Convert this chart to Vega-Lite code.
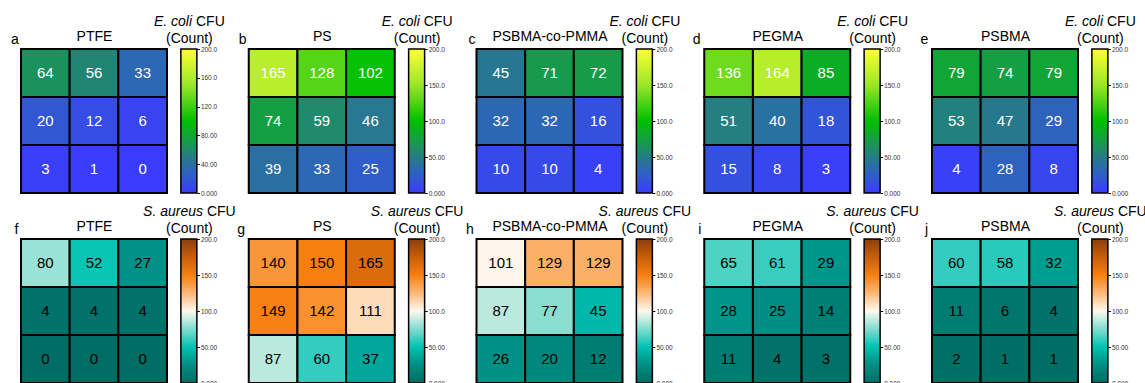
{
  "$schema": "https://vega.github.io/schema/vega-lite/v6.json",
  "padding": {"left": 10, "top": 14, "right": 0, "bottom": 0},
  "config": {
    "font": "Liberation Sans",
    "view": {"stroke": null},
    "axis": {
      "labels": false, "ticks": false, "domain": false, "grid": false,
      "titleFontSize": 14, "titleFontWeight": "normal", "titleColor": "black",
      "titleAngle": 0, "titleBaseline": "alphabetic", "titlePadding": 0
    }
  },
  "datasets": {
    "bar": [{"lo": 0, "hi": 200}],
    "cfu": [
      {"strain": "E. coli", "surface": "PTFE", "row": 1, "col": 1, "count": 64},
      {"strain": "E. coli", "surface": "PTFE", "row": 1, "col": 2, "count": 56},
      {"strain": "E. coli", "surface": "PTFE", "row": 1, "col": 3, "count": 33},
      {"strain": "E. coli", "surface": "PTFE", "row": 2, "col": 1, "count": 20},
      {"strain": "E. coli", "surface": "PTFE", "row": 2, "col": 2, "count": 12},
      {"strain": "E. coli", "surface": "PTFE", "row": 2, "col": 3, "count": 6},
      {"strain": "E. coli", "surface": "PTFE", "row": 3, "col": 1, "count": 3},
      {"strain": "E. coli", "surface": "PTFE", "row": 3, "col": 2, "count": 1},
      {"strain": "E. coli", "surface": "PTFE", "row": 3, "col": 3, "count": 0},
      {"strain": "E. coli", "surface": "PS", "row": 1, "col": 1, "count": 165},
      {"strain": "E. coli", "surface": "PS", "row": 1, "col": 2, "count": 128},
      {"strain": "E. coli", "surface": "PS", "row": 1, "col": 3, "count": 102},
      {"strain": "E. coli", "surface": "PS", "row": 2, "col": 1, "count": 74},
      {"strain": "E. coli", "surface": "PS", "row": 2, "col": 2, "count": 59},
      {"strain": "E. coli", "surface": "PS", "row": 2, "col": 3, "count": 46},
      {"strain": "E. coli", "surface": "PS", "row": 3, "col": 1, "count": 39},
      {"strain": "E. coli", "surface": "PS", "row": 3, "col": 2, "count": 33},
      {"strain": "E. coli", "surface": "PS", "row": 3, "col": 3, "count": 25},
      {"strain": "E. coli", "surface": "PSBMA-co-PMMA", "row": 1, "col": 1, "count": 45},
      {"strain": "E. coli", "surface": "PSBMA-co-PMMA", "row": 1, "col": 2, "count": 71},
      {"strain": "E. coli", "surface": "PSBMA-co-PMMA", "row": 1, "col": 3, "count": 72},
      {"strain": "E. coli", "surface": "PSBMA-co-PMMA", "row": 2, "col": 1, "count": 32},
      {"strain": "E. coli", "surface": "PSBMA-co-PMMA", "row": 2, "col": 2, "count": 32},
      {"strain": "E. coli", "surface": "PSBMA-co-PMMA", "row": 2, "col": 3, "count": 16},
      {"strain": "E. coli", "surface": "PSBMA-co-PMMA", "row": 3, "col": 1, "count": 10},
      {"strain": "E. coli", "surface": "PSBMA-co-PMMA", "row": 3, "col": 2, "count": 10},
      {"strain": "E. coli", "surface": "PSBMA-co-PMMA", "row": 3, "col": 3, "count": 4},
      {"strain": "E. coli", "surface": "PEGMA", "row": 1, "col": 1, "count": 136},
      {"strain": "E. coli", "surface": "PEGMA", "row": 1, "col": 2, "count": 164},
      {"strain": "E. coli", "surface": "PEGMA", "row": 1, "col": 3, "count": 85},
      {"strain": "E. coli", "surface": "PEGMA", "row": 2, "col": 1, "count": 51},
      {"strain": "E. coli", "surface": "PEGMA", "row": 2, "col": 2, "count": 40},
      {"strain": "E. coli", "surface": "PEGMA", "row": 2, "col": 3, "count": 18},
      {"strain": "E. coli", "surface": "PEGMA", "row": 3, "col": 1, "count": 15},
      {"strain": "E. coli", "surface": "PEGMA", "row": 3, "col": 2, "count": 8},
      {"strain": "E. coli", "surface": "PEGMA", "row": 3, "col": 3, "count": 3},
      {"strain": "E. coli", "surface": "PSBMA", "row": 1, "col": 1, "count": 79},
      {"strain": "E. coli", "surface": "PSBMA", "row": 1, "col": 2, "count": 74},
      {"strain": "E. coli", "surface": "PSBMA", "row": 1, "col": 3, "count": 79},
      {"strain": "E. coli", "surface": "PSBMA", "row": 2, "col": 1, "count": 53},
      {"strain": "E. coli", "surface": "PSBMA", "row": 2, "col": 2, "count": 47},
      {"strain": "E. coli", "surface": "PSBMA", "row": 2, "col": 3, "count": 29},
      {"strain": "E. coli", "surface": "PSBMA", "row": 3, "col": 1, "count": 4},
      {"strain": "E. coli", "surface": "PSBMA", "row": 3, "col": 2, "count": 28},
      {"strain": "E. coli", "surface": "PSBMA", "row": 3, "col": 3, "count": 8},
      {"strain": "S. aureus", "surface": "PTFE", "row": 1, "col": 1, "count": 80},
      {"strain": "S. aureus", "surface": "PTFE", "row": 1, "col": 2, "count": 52},
      {"strain": "S. aureus", "surface": "PTFE", "row": 1, "col": 3, "count": 27},
      {"strain": "S. aureus", "surface": "PTFE", "row": 2, "col": 1, "count": 4},
      {"strain": "S. aureus", "surface": "PTFE", "row": 2, "col": 2, "count": 4},
      {"strain": "S. aureus", "surface": "PTFE", "row": 2, "col": 3, "count": 4},
      {"strain": "S. aureus", "surface": "PTFE", "row": 3, "col": 1, "count": 0},
      {"strain": "S. aureus", "surface": "PTFE", "row": 3, "col": 2, "count": 0},
      {"strain": "S. aureus", "surface": "PTFE", "row": 3, "col": 3, "count": 0},
      {"strain": "S. aureus", "surface": "PS", "row": 1, "col": 1, "count": 140},
      {"strain": "S. aureus", "surface": "PS", "row": 1, "col": 2, "count": 150},
      {"strain": "S. aureus", "surface": "PS", "row": 1, "col": 3, "count": 165},
      {"strain": "S. aureus", "surface": "PS", "row": 2, "col": 1, "count": 149},
      {"strain": "S. aureus", "surface": "PS", "row": 2, "col": 2, "count": 142},
      {"strain": "S. aureus", "surface": "PS", "row": 2, "col": 3, "count": 111},
      {"strain": "S. aureus", "surface": "PS", "row": 3, "col": 1, "count": 87},
      {"strain": "S. aureus", "surface": "PS", "row": 3, "col": 2, "count": 60},
      {"strain": "S. aureus", "surface": "PS", "row": 3, "col": 3, "count": 37},
      {"strain": "S. aureus", "surface": "PSBMA-co-PMMA", "row": 1, "col": 1, "count": 101},
      {"strain": "S. aureus", "surface": "PSBMA-co-PMMA", "row": 1, "col": 2, "count": 129},
      {"strain": "S. aureus", "surface": "PSBMA-co-PMMA", "row": 1, "col": 3, "count": 129},
      {"strain": "S. aureus", "surface": "PSBMA-co-PMMA", "row": 2, "col": 1, "count": 87},
      {"strain": "S. aureus", "surface": "PSBMA-co-PMMA", "row": 2, "col": 2, "count": 77},
      {"strain": "S. aureus", "surface": "PSBMA-co-PMMA", "row": 2, "col": 3, "count": 45},
      {"strain": "S. aureus", "surface": "PSBMA-co-PMMA", "row": 3, "col": 1, "count": 26},
      {"strain": "S. aureus", "surface": "PSBMA-co-PMMA", "row": 3, "col": 2, "count": 20},
      {"strain": "S. aureus", "surface": "PSBMA-co-PMMA", "row": 3, "col": 3, "count": 12},
      {"strain": "S. aureus", "surface": "PEGMA", "row": 1, "col": 1, "count": 65},
      {"strain": "S. aureus", "surface": "PEGMA", "row": 1, "col": 2, "count": 61},
      {"strain": "S. aureus", "surface": "PEGMA", "row": 1, "col": 3, "count": 29},
      {"strain": "S. aureus", "surface": "PEGMA", "row": 2, "col": 1, "count": 28},
      {"strain": "S. aureus", "surface": "PEGMA", "row": 2, "col": 2, "count": 25},
      {"strain": "S. aureus", "surface": "PEGMA", "row": 2, "col": 3, "count": 14},
      {"strain": "S. aureus", "surface": "PEGMA", "row": 3, "col": 1, "count": 11},
      {"strain": "S. aureus", "surface": "PEGMA", "row": 3, "col": 2, "count": 4},
      {"strain": "S. aureus", "surface": "PEGMA", "row": 3, "col": 3, "count": 3},
      {"strain": "S. aureus", "surface": "PSBMA", "row": 1, "col": 1, "count": 60},
      {"strain": "S. aureus", "surface": "PSBMA", "row": 1, "col": 2, "count": 58},
      {"strain": "S. aureus", "surface": "PSBMA", "row": 1, "col": 3, "count": 32},
      {"strain": "S. aureus", "surface": "PSBMA", "row": 2, "col": 1, "count": 11},
      {"strain": "S. aureus", "surface": "PSBMA", "row": 2, "col": 2, "count": 6},
      {"strain": "S. aureus", "surface": "PSBMA", "row": 2, "col": 3, "count": 4},
      {"strain": "S. aureus", "surface": "PSBMA", "row": 3, "col": 1, "count": 2},
      {"strain": "S. aureus", "surface": "PSBMA", "row": 3, "col": 2, "count": 1},
      {"strain": "S. aureus", "surface": "PSBMA", "row": 3, "col": 3, "count": 1}
    ]
  },
  "columns": 10,
  "align": "each",
  "bounds": "flush",
  "spacing": {"row": 46, "column": 13.875},
  "resolve": {"scale": {"color": "independent"}},
  "concat": [
    {
      "width": 146, "height": 144, "data": {"name": "cfu"},
      "transform": [{"filter": "datum.strain === 'E. coli' && datum.surface === 'PTFE'"}],
      "encoding": {
        "x": {"field": "col", "type": "ordinal", "axis": {"orient": "top", "title": "PTFE", "titleX": 73, "titleY": -9}},
        "y": {"field": "row", "type": "ordinal", "axis": {"orient": "left", "title": "a", "titleX": -6.5, "titleY": -5.5, "titleAlign": "center"}}
      },
      "layer": [
        {"mark": {"type": "rect", "stroke": "black", "strokeWidth": 2},
         "encoding": {"color": {"field": "count", "type": "quantitative", "legend": null,
           "scale": {"domain": [0, 25, 50, 75, 100, 150, 200], "range": ["#3b3bff", "#2f5ec8", "#257d85", "#14a040", "#00c000", "#9ae62a", "#ffff33"], "interpolate": "rgb"}}}},
        {"mark": {"type": "text", "fontSize": 15, "fill": "white"}, "encoding": {"text": {"field": "count", "type": "quantitative"}}}
      ]
    },
    {
      "width": 54, "height": 144, "data": {"name": "bar"},
      "resolve": {"axis": {"y": "independent"}},
      "layer": [
        {"mark": {"type": "rect", "fill": {"gradient": "linear", "x1": 0, "y1": 1, "x2": 0, "y2": 0, "stops": [
            {"offset": 0, "color": "#3b3bff"}, {"offset": 0.125, "color": "#2f5ec8"}, {"offset": 0.25, "color": "#257d85"}, {"offset": 0.375, "color": "#14a040"}, {"offset": 0.5, "color": "#00c000"}, {"offset": 0.75, "color": "#9ae62a"}, {"offset": 1, "color": "#ffff33"}]}},
         "encoding": {
           "x": {"datum": 0, "type": "quantitative", "scale": {"domain": [0, 1], "range": [0, 16], "nice": false, "zero": false}, "axis": {"orient": "top", "title": "(Count)", "titleX": 8, "titleY": -7, "titleAlign": "center"}},
           "x2": {"datum": 1},
           "y": {"field": "lo", "type": "quantitative", "scale": {"domain": [0, 200], "nice": false}, "axis": {"orient": "right", "offset": -38, "values": [0, 40, 80, 120, 160, 200], "labelExpr": "datum.value === 0 ? '0.000' : format(datum.value, '.4r')", "labels": true, "ticks": true, "tickSize": 2.5, "tickColor": "black", "labelFontSize": 6.5, "labelPadding": 1, "labelColor": "#333333", "title": "CFU", "titleX": -1.4, "titleY": -24, "titleAlign": "left"}},
           "y2": {"field": "hi"}
         }},
        {"mark": {"type": "rect", "filled": false, "color": "black", "strokeWidth": 1.5},
         "encoding": {
           "x": {"datum": 0, "type": "quantitative"}, "x2": {"datum": 1},
           "y": {"field": "lo", "type": "quantitative", "axis": {"orient": "left", "title": "E. coli", "titleFontStyle": "italic", "titleX": 10.7, "titleY": -24, "titleAlign": "right"}},
           "y2": {"field": "hi"}
         }}
      ]
    },
    {
      "width": 146, "height": 144, "data": {"name": "cfu"},
      "transform": [{"filter": "datum.strain === 'E. coli' && datum.surface === 'PS'"}],
      "encoding": {
        "x": {"field": "col", "type": "ordinal", "axis": {"orient": "top", "title": "PS", "titleX": 73, "titleY": -9}},
        "y": {"field": "row", "type": "ordinal", "axis": {"orient": "left", "title": "b", "titleX": -6.5, "titleY": -5.5, "titleAlign": "center"}}
      },
      "layer": [
        {"mark": {"type": "rect", "stroke": "black", "strokeWidth": 2},
         "encoding": {"color": {"field": "count", "type": "quantitative", "legend": null,
           "scale": {"domain": [0, 25, 50, 75, 100, 150, 200], "range": ["#3b3bff", "#2f5ec8", "#257d85", "#14a040", "#00c000", "#9ae62a", "#ffff33"], "interpolate": "rgb"}}}},
        {"mark": {"type": "text", "fontSize": 15, "fill": "white"}, "encoding": {"text": {"field": "count", "type": "quantitative"}}}
      ]
    },
    {
      "width": 54, "height": 144, "data": {"name": "bar"},
      "resolve": {"axis": {"y": "independent"}},
      "layer": [
        {"mark": {"type": "rect", "fill": {"gradient": "linear", "x1": 0, "y1": 1, "x2": 0, "y2": 0, "stops": [
            {"offset": 0, "color": "#3b3bff"}, {"offset": 0.125, "color": "#2f5ec8"}, {"offset": 0.25, "color": "#257d85"}, {"offset": 0.375, "color": "#14a040"}, {"offset": 0.5, "color": "#00c000"}, {"offset": 0.75, "color": "#9ae62a"}, {"offset": 1, "color": "#ffff33"}]}},
         "encoding": {
           "x": {"datum": 0, "type": "quantitative", "scale": {"domain": [0, 1], "range": [0, 16], "nice": false, "zero": false}, "axis": {"orient": "top", "title": "(Count)", "titleX": 8, "titleY": -7, "titleAlign": "center"}},
           "x2": {"datum": 1},
           "y": {"field": "lo", "type": "quantitative", "scale": {"domain": [0, 200], "nice": false}, "axis": {"orient": "right", "offset": -38, "values": [0, 50, 100, 150, 200], "labelExpr": "datum.value === 0 ? '0.000' : format(datum.value, '.4r')", "labels": true, "ticks": true, "tickSize": 2.5, "tickColor": "black", "labelFontSize": 6.5, "labelPadding": 1, "labelColor": "#333333", "title": "CFU", "titleX": -1.4, "titleY": -24, "titleAlign": "left"}},
           "y2": {"field": "hi"}
         }},
        {"mark": {"type": "rect", "filled": false, "color": "black", "strokeWidth": 1.5},
         "encoding": {
           "x": {"datum": 0, "type": "quantitative"}, "x2": {"datum": 1},
           "y": {"field": "lo", "type": "quantitative", "axis": {"orient": "left", "title": "E. coli", "titleFontStyle": "italic", "titleX": 10.7, "titleY": -24, "titleAlign": "right"}},
           "y2": {"field": "hi"}
         }}
      ]
    },
    {
      "width": 146, "height": 144, "data": {"name": "cfu"},
      "transform": [{"filter": "datum.strain === 'E. coli' && datum.surface === 'PSBMA-co-PMMA'"}],
      "encoding": {
        "x": {"field": "col", "type": "ordinal", "axis": {"orient": "top", "title": "PSBMA-co-PMMA", "titleX": 73, "titleY": -9}},
        "y": {"field": "row", "type": "ordinal", "axis": {"orient": "left", "title": "c", "titleX": -5, "titleY": -5.5, "titleAlign": "center"}}
      },
      "layer": [
        {"mark": {"type": "rect", "stroke": "black", "strokeWidth": 2},
         "encoding": {"color": {"field": "count", "type": "quantitative", "legend": null,
           "scale": {"domain": [0, 25, 50, 75, 100, 150, 200], "range": ["#3b3bff", "#2f5ec8", "#257d85", "#14a040", "#00c000", "#9ae62a", "#ffff33"], "interpolate": "rgb"}}}},
        {"mark": {"type": "text", "fontSize": 15, "fill": "white"}, "encoding": {"text": {"field": "count", "type": "quantitative"}}}
      ]
    },
    {
      "width": 54, "height": 144, "data": {"name": "bar"},
      "resolve": {"axis": {"y": "independent"}},
      "layer": [
        {"mark": {"type": "rect", "fill": {"gradient": "linear", "x1": 0, "y1": 1, "x2": 0, "y2": 0, "stops": [
            {"offset": 0, "color": "#3b3bff"}, {"offset": 0.125, "color": "#2f5ec8"}, {"offset": 0.25, "color": "#257d85"}, {"offset": 0.375, "color": "#14a040"}, {"offset": 0.5, "color": "#00c000"}, {"offset": 0.75, "color": "#9ae62a"}, {"offset": 1, "color": "#ffff33"}]}},
         "encoding": {
           "x": {"datum": 0, "type": "quantitative", "scale": {"domain": [0, 1], "range": [0, 16], "nice": false, "zero": false}, "axis": {"orient": "top", "title": "(Count)", "titleX": 8, "titleY": -7, "titleAlign": "center"}},
           "x2": {"datum": 1},
           "y": {"field": "lo", "type": "quantitative", "scale": {"domain": [0, 200], "nice": false}, "axis": {"orient": "right", "offset": -38, "values": [0, 50, 100, 150, 200], "labelExpr": "datum.value === 0 ? '0.000' : format(datum.value, '.4r')", "labels": true, "ticks": true, "tickSize": 2.5, "tickColor": "black", "labelFontSize": 6.5, "labelPadding": 1, "labelColor": "#333333", "title": "CFU", "titleX": -1.4, "titleY": -24, "titleAlign": "left"}},
           "y2": {"field": "hi"}
         }},
        {"mark": {"type": "rect", "filled": false, "color": "black", "strokeWidth": 1.5},
         "encoding": {
           "x": {"datum": 0, "type": "quantitative"}, "x2": {"datum": 1},
           "y": {"field": "lo", "type": "quantitative", "axis": {"orient": "left", "title": "E. coli", "titleFontStyle": "italic", "titleX": 10.7, "titleY": -24, "titleAlign": "right"}},
           "y2": {"field": "hi"}
         }}
      ]
    },
    {
      "width": 146, "height": 144, "data": {"name": "cfu"},
      "transform": [{"filter": "datum.strain === 'E. coli' && datum.surface === 'PEGMA'"}],
      "encoding": {
        "x": {"field": "col", "type": "ordinal", "axis": {"orient": "top", "title": "PEGMA", "titleX": 73, "titleY": -9}},
        "y": {"field": "row", "type": "ordinal", "axis": {"orient": "left", "title": "d", "titleX": -8, "titleY": -5.5, "titleAlign": "center"}}
      },
      "layer": [
        {"mark": {"type": "rect", "stroke": "black", "strokeWidth": 2},
         "encoding": {"color": {"field": "count", "type": "quantitative", "legend": null,
           "scale": {"domain": [0, 25, 50, 75, 100, 150, 200], "range": ["#3b3bff", "#2f5ec8", "#257d85", "#14a040", "#00c000", "#9ae62a", "#ffff33"], "interpolate": "rgb"}}}},
        {"mark": {"type": "text", "fontSize": 15, "fill": "white"}, "encoding": {"text": {"field": "count", "type": "quantitative"}}}
      ]
    },
    {
      "width": 54, "height": 144, "data": {"name": "bar"},
      "resolve": {"axis": {"y": "independent"}},
      "layer": [
        {"mark": {"type": "rect", "fill": {"gradient": "linear", "x1": 0, "y1": 1, "x2": 0, "y2": 0, "stops": [
            {"offset": 0, "color": "#3b3bff"}, {"offset": 0.125, "color": "#2f5ec8"}, {"offset": 0.25, "color": "#257d85"}, {"offset": 0.375, "color": "#14a040"}, {"offset": 0.5, "color": "#00c000"}, {"offset": 0.75, "color": "#9ae62a"}, {"offset": 1, "color": "#ffff33"}]}},
         "encoding": {
           "x": {"datum": 0, "type": "quantitative", "scale": {"domain": [0, 1], "range": [0, 16], "nice": false, "zero": false}, "axis": {"orient": "top", "title": "(Count)", "titleX": 8, "titleY": -7, "titleAlign": "center"}},
           "x2": {"datum": 1},
           "y": {"field": "lo", "type": "quantitative", "scale": {"domain": [0, 200], "nice": false}, "axis": {"orient": "right", "offset": -38, "values": [0, 50, 100, 150, 200], "labelExpr": "datum.value === 0 ? '0.000' : format(datum.value, '.4r')", "labels": true, "ticks": true, "tickSize": 2.5, "tickColor": "black", "labelFontSize": 6.5, "labelPadding": 1, "labelColor": "#333333", "title": "CFU", "titleX": -1.4, "titleY": -24, "titleAlign": "left"}},
           "y2": {"field": "hi"}
         }},
        {"mark": {"type": "rect", "filled": false, "color": "black", "strokeWidth": 1.5},
         "encoding": {
           "x": {"datum": 0, "type": "quantitative"}, "x2": {"datum": 1},
           "y": {"field": "lo", "type": "quantitative", "axis": {"orient": "left", "title": "E. coli", "titleFontStyle": "italic", "titleX": 10.7, "titleY": -24, "titleAlign": "right"}},
           "y2": {"field": "hi"}
         }}
      ]
    },
    {
      "width": 146, "height": 144, "data": {"name": "cfu"},
      "transform": [{"filter": "datum.strain === 'E. coli' && datum.surface === 'PSBMA'"}],
      "encoding": {
        "x": {"field": "col", "type": "ordinal", "axis": {"orient": "top", "title": "PSBMA", "titleX": 73, "titleY": -9}},
        "y": {"field": "row", "type": "ordinal", "axis": {"orient": "left", "title": "e", "titleX": -8, "titleY": -5.5, "titleAlign": "center"}}
      },
      "layer": [
        {"mark": {"type": "rect", "stroke": "black", "strokeWidth": 2},
         "encoding": {"color": {"field": "count", "type": "quantitative", "legend": null,
           "scale": {"domain": [0, 25, 50, 75, 100, 150, 200], "range": ["#3b3bff", "#2f5ec8", "#257d85", "#14a040", "#00c000", "#9ae62a", "#ffff33"], "interpolate": "rgb"}}}},
        {"mark": {"type": "text", "fontSize": 15, "fill": "white"}, "encoding": {"text": {"field": "count", "type": "quantitative"}}}
      ]
    },
    {
      "width": 54, "height": 144, "data": {"name": "bar"},
      "resolve": {"axis": {"y": "independent"}},
      "layer": [
        {"mark": {"type": "rect", "fill": {"gradient": "linear", "x1": 0, "y1": 1, "x2": 0, "y2": 0, "stops": [
            {"offset": 0, "color": "#3b3bff"}, {"offset": 0.125, "color": "#2f5ec8"}, {"offset": 0.25, "color": "#257d85"}, {"offset": 0.375, "color": "#14a040"}, {"offset": 0.5, "color": "#00c000"}, {"offset": 0.75, "color": "#9ae62a"}, {"offset": 1, "color": "#ffff33"}]}},
         "encoding": {
           "x": {"datum": 0, "type": "quantitative", "scale": {"domain": [0, 1], "range": [0, 16], "nice": false, "zero": false}, "axis": {"orient": "top", "title": "(Count)", "titleX": 8, "titleY": -7, "titleAlign": "center"}},
           "x2": {"datum": 1},
           "y": {"field": "lo", "type": "quantitative", "scale": {"domain": [0, 200], "nice": false}, "axis": {"orient": "right", "offset": -38, "values": [0, 50, 100, 150, 200], "labelExpr": "datum.value === 0 ? '0.000' : format(datum.value, '.4r')", "labels": true, "ticks": true, "tickSize": 2.5, "tickColor": "black", "labelFontSize": 6.5, "labelPadding": 1, "labelColor": "#333333", "title": "CFU", "titleX": -1.4, "titleY": -24, "titleAlign": "left"}},
           "y2": {"field": "hi"}
         }},
        {"mark": {"type": "rect", "filled": false, "color": "black", "strokeWidth": 1.5},
         "encoding": {
           "x": {"datum": 0, "type": "quantitative"}, "x2": {"datum": 1},
           "y": {"field": "lo", "type": "quantitative", "axis": {"orient": "left", "title": "E. coli", "titleFontStyle": "italic", "titleX": 10.7, "titleY": -24, "titleAlign": "right"}},
           "y2": {"field": "hi"}
         }}
      ]
    },
    {
      "width": 146, "height": 144, "data": {"name": "cfu"},
      "transform": [{"filter": "datum.strain === 'S. aureus' && datum.surface === 'PTFE'"}],
      "encoding": {
        "x": {"field": "col", "type": "ordinal", "axis": {"orient": "top", "title": "PTFE", "titleX": 73, "titleY": -9}},
        "y": {"field": "row", "type": "ordinal", "axis": {"orient": "left", "title": "f", "titleX": -5, "titleY": -5.5, "titleAlign": "center"}}
      },
      "layer": [
        {"mark": {"type": "rect", "stroke": "black", "strokeWidth": 2},
         "encoding": {"color": {"field": "count", "type": "quantitative", "legend": null,
           "scale": {"domain": [0, 25, 50, 75, 100, 125, 150, 175, 200], "range": ["#006d64", "#008e84", "#00c2b2", "#80dccf", "#fdf8ee", "#fdb878", "#f77f10", "#c85e0a", "#8b3f0d"], "interpolate": "rgb"}}}},
        {"mark": {"type": "text", "fontSize": 15, "fill": "black"}, "encoding": {"text": {"field": "count", "type": "quantitative"}}}
      ]
    },
    {
      "width": 54, "height": 144, "data": {"name": "bar"},
      "resolve": {"axis": {"y": "independent"}},
      "layer": [
        {"mark": {"type": "rect", "fill": {"gradient": "linear", "x1": 0, "y1": 1, "x2": 0, "y2": 0, "stops": [
            {"offset": 0, "color": "#006d64"}, {"offset": 0.125, "color": "#008e84"}, {"offset": 0.25, "color": "#00c2b2"}, {"offset": 0.375, "color": "#80dccf"}, {"offset": 0.5, "color": "#fdf8ee"}, {"offset": 0.625, "color": "#fdb878"}, {"offset": 0.75, "color": "#f77f10"}, {"offset": 0.875, "color": "#c85e0a"}, {"offset": 1, "color": "#8b3f0d"}]}},
         "encoding": {
           "x": {"datum": 0, "type": "quantitative", "scale": {"domain": [0, 1], "range": [0, 16], "nice": false, "zero": false}, "axis": {"orient": "top", "title": "(Count)", "titleX": 8, "titleY": -7, "titleAlign": "center"}},
           "x2": {"datum": 1},
           "y": {"field": "lo", "type": "quantitative", "scale": {"domain": [0, 200], "nice": false}, "axis": {"orient": "right", "offset": -38, "values": [0, 50, 100, 150, 200], "labelExpr": "datum.value === 0 ? '0.000' : format(datum.value, '.4r')", "labels": true, "ticks": true, "tickSize": 2.5, "tickColor": "black", "labelFontSize": 6.5, "labelPadding": 1, "labelColor": "#333333", "title": "CFU", "titleX": 9.55, "titleY": -24, "titleAlign": "left"}},
           "y2": {"field": "hi"}
         }},
        {"mark": {"type": "rect", "filled": false, "color": "black", "strokeWidth": 1.5},
         "encoding": {
           "x": {"datum": 0, "type": "quantitative"}, "x2": {"datum": 1},
           "y": {"field": "lo", "type": "quantitative", "axis": {"orient": "left", "title": "S. aureus", "titleFontStyle": "italic", "titleX": 21.65, "titleY": -24, "titleAlign": "right"}},
           "y2": {"field": "hi"}
         }}
      ]
    },
    {
      "width": 146, "height": 144, "data": {"name": "cfu"},
      "transform": [{"filter": "datum.strain === 'S. aureus' && datum.surface === 'PS'"}],
      "encoding": {
        "x": {"field": "col", "type": "ordinal", "axis": {"orient": "top", "title": "PS", "titleX": 73, "titleY": -9}},
        "y": {"field": "row", "type": "ordinal", "axis": {"orient": "left", "title": "g", "titleX": -8, "titleY": -5.5, "titleAlign": "center"}}
      },
      "layer": [
        {"mark": {"type": "rect", "stroke": "black", "strokeWidth": 2},
         "encoding": {"color": {"field": "count", "type": "quantitative", "legend": null,
           "scale": {"domain": [0, 25, 50, 75, 100, 125, 150, 175, 200], "range": ["#006d64", "#008e84", "#00c2b2", "#80dccf", "#fdf8ee", "#fdb878", "#f77f10", "#c85e0a", "#8b3f0d"], "interpolate": "rgb"}}}},
        {"mark": {"type": "text", "fontSize": 15, "fill": "black"}, "encoding": {"text": {"field": "count", "type": "quantitative"}}}
      ]
    },
    {
      "width": 54, "height": 144, "data": {"name": "bar"},
      "resolve": {"axis": {"y": "independent"}},
      "layer": [
        {"mark": {"type": "rect", "fill": {"gradient": "linear", "x1": 0, "y1": 1, "x2": 0, "y2": 0, "stops": [
            {"offset": 0, "color": "#006d64"}, {"offset": 0.125, "color": "#008e84"}, {"offset": 0.25, "color": "#00c2b2"}, {"offset": 0.375, "color": "#80dccf"}, {"offset": 0.5, "color": "#fdf8ee"}, {"offset": 0.625, "color": "#fdb878"}, {"offset": 0.75, "color": "#f77f10"}, {"offset": 0.875, "color": "#c85e0a"}, {"offset": 1, "color": "#8b3f0d"}]}},
         "encoding": {
           "x": {"datum": 0, "type": "quantitative", "scale": {"domain": [0, 1], "range": [0, 16], "nice": false, "zero": false}, "axis": {"orient": "top", "title": "(Count)", "titleX": 8, "titleY": -7, "titleAlign": "center"}},
           "x2": {"datum": 1},
           "y": {"field": "lo", "type": "quantitative", "scale": {"domain": [0, 200], "nice": false}, "axis": {"orient": "right", "offset": -38, "values": [0, 50, 100, 150, 200], "labelExpr": "datum.value === 0 ? '0.000' : format(datum.value, '.4r')", "labels": true, "ticks": true, "tickSize": 2.5, "tickColor": "black", "labelFontSize": 6.5, "labelPadding": 1, "labelColor": "#333333", "title": "CFU", "titleX": 9.55, "titleY": -24, "titleAlign": "left"}},
           "y2": {"field": "hi"}
         }},
        {"mark": {"type": "rect", "filled": false, "color": "black", "strokeWidth": 1.5},
         "encoding": {
           "x": {"datum": 0, "type": "quantitative"}, "x2": {"datum": 1},
           "y": {"field": "lo", "type": "quantitative", "axis": {"orient": "left", "title": "S. aureus", "titleFontStyle": "italic", "titleX": 21.65, "titleY": -24, "titleAlign": "right"}},
           "y2": {"field": "hi"}
         }}
      ]
    },
    {
      "width": 146, "height": 144, "data": {"name": "cfu"},
      "transform": [{"filter": "datum.strain === 'S. aureus' && datum.surface === 'PSBMA-co-PMMA'"}],
      "encoding": {
        "x": {"field": "col", "type": "ordinal", "axis": {"orient": "top", "title": "PSBMA-co-PMMA", "titleX": 73, "titleY": -9}},
        "y": {"field": "row", "type": "ordinal", "axis": {"orient": "left", "title": "h", "titleX": -7, "titleY": -5.5, "titleAlign": "center"}}
      },
      "layer": [
        {"mark": {"type": "rect", "stroke": "black", "strokeWidth": 2},
         "encoding": {"color": {"field": "count", "type": "quantitative", "legend": null,
           "scale": {"domain": [0, 25, 50, 75, 100, 125, 150, 175, 200], "range": ["#006d64", "#008e84", "#00c2b2", "#80dccf", "#fdf8ee", "#fdb878", "#f77f10", "#c85e0a", "#8b3f0d"], "interpolate": "rgb"}}}},
        {"mark": {"type": "text", "fontSize": 15, "fill": "black"}, "encoding": {"text": {"field": "count", "type": "quantitative"}}}
      ]
    },
    {
      "width": 54, "height": 144, "data": {"name": "bar"},
      "resolve": {"axis": {"y": "independent"}},
      "layer": [
        {"mark": {"type": "rect", "fill": {"gradient": "linear", "x1": 0, "y1": 1, "x2": 0, "y2": 0, "stops": [
            {"offset": 0, "color": "#006d64"}, {"offset": 0.125, "color": "#008e84"}, {"offset": 0.25, "color": "#00c2b2"}, {"offset": 0.375, "color": "#80dccf"}, {"offset": 0.5, "color": "#fdf8ee"}, {"offset": 0.625, "color": "#fdb878"}, {"offset": 0.75, "color": "#f77f10"}, {"offset": 0.875, "color": "#c85e0a"}, {"offset": 1, "color": "#8b3f0d"}]}},
         "encoding": {
           "x": {"datum": 0, "type": "quantitative", "scale": {"domain": [0, 1], "range": [0, 16], "nice": false, "zero": false}, "axis": {"orient": "top", "title": "(Count)", "titleX": 8, "titleY": -7, "titleAlign": "center"}},
           "x2": {"datum": 1},
           "y": {"field": "lo", "type": "quantitative", "scale": {"domain": [0, 200], "nice": false}, "axis": {"orient": "right", "offset": -38, "values": [0, 50, 100, 150, 200], "labelExpr": "datum.value === 0 ? '0.000' : format(datum.value, '.4r')", "labels": true, "ticks": true, "tickSize": 2.5, "tickColor": "black", "labelFontSize": 6.5, "labelPadding": 1, "labelColor": "#333333", "title": "CFU", "titleX": 9.55, "titleY": -24, "titleAlign": "left"}},
           "y2": {"field": "hi"}
         }},
        {"mark": {"type": "rect", "filled": false, "color": "black", "strokeWidth": 1.5},
         "encoding": {
           "x": {"datum": 0, "type": "quantitative"}, "x2": {"datum": 1},
           "y": {"field": "lo", "type": "quantitative", "axis": {"orient": "left", "title": "S. aureus", "titleFontStyle": "italic", "titleX": 21.65, "titleY": -24, "titleAlign": "right"}},
           "y2": {"field": "hi"}
         }}
      ]
    },
    {
      "width": 146, "height": 144, "data": {"name": "cfu"},
      "transform": [{"filter": "datum.strain === 'S. aureus' && datum.surface === 'PEGMA'"}],
      "encoding": {
        "x": {"field": "col", "type": "ordinal", "axis": {"orient": "top", "title": "PEGMA", "titleX": 73, "titleY": -9}},
        "y": {"field": "row", "type": "ordinal", "axis": {"orient": "left", "title": "i", "titleX": -5, "titleY": -5.5, "titleAlign": "center"}}
      },
      "layer": [
        {"mark": {"type": "rect", "stroke": "black", "strokeWidth": 2},
         "encoding": {"color": {"field": "count", "type": "quantitative", "legend": null,
           "scale": {"domain": [0, 25, 50, 75, 100, 125, 150, 175, 200], "range": ["#006d64", "#008e84", "#00c2b2", "#80dccf", "#fdf8ee", "#fdb878", "#f77f10", "#c85e0a", "#8b3f0d"], "interpolate": "rgb"}}}},
        {"mark": {"type": "text", "fontSize": 15, "fill": "black"}, "encoding": {"text": {"field": "count", "type": "quantitative"}}}
      ]
    },
    {
      "width": 54, "height": 144, "data": {"name": "bar"},
      "resolve": {"axis": {"y": "independent"}},
      "layer": [
        {"mark": {"type": "rect", "fill": {"gradient": "linear", "x1": 0, "y1": 1, "x2": 0, "y2": 0, "stops": [
            {"offset": 0, "color": "#006d64"}, {"offset": 0.125, "color": "#008e84"}, {"offset": 0.25, "color": "#00c2b2"}, {"offset": 0.375, "color": "#80dccf"}, {"offset": 0.5, "color": "#fdf8ee"}, {"offset": 0.625, "color": "#fdb878"}, {"offset": 0.75, "color": "#f77f10"}, {"offset": 0.875, "color": "#c85e0a"}, {"offset": 1, "color": "#8b3f0d"}]}},
         "encoding": {
           "x": {"datum": 0, "type": "quantitative", "scale": {"domain": [0, 1], "range": [0, 16], "nice": false, "zero": false}, "axis": {"orient": "top", "title": "(Count)", "titleX": 8, "titleY": -7, "titleAlign": "center"}},
           "x2": {"datum": 1},
           "y": {"field": "lo", "type": "quantitative", "scale": {"domain": [0, 200], "nice": false}, "axis": {"orient": "right", "offset": -38, "values": [0, 50, 100, 150, 200], "labelExpr": "datum.value === 0 ? '0.000' : format(datum.value, '.4r')", "labels": true, "ticks": true, "tickSize": 2.5, "tickColor": "black", "labelFontSize": 6.5, "labelPadding": 1, "labelColor": "#333333", "title": "CFU", "titleX": 9.55, "titleY": -24, "titleAlign": "left"}},
           "y2": {"field": "hi"}
         }},
        {"mark": {"type": "rect", "filled": false, "color": "black", "strokeWidth": 1.5},
         "encoding": {
           "x": {"datum": 0, "type": "quantitative"}, "x2": {"datum": 1},
           "y": {"field": "lo", "type": "quantitative", "axis": {"orient": "left", "title": "S. aureus", "titleFontStyle": "italic", "titleX": 21.65, "titleY": -24, "titleAlign": "right"}},
           "y2": {"field": "hi"}
         }}
      ]
    },
    {
      "width": 146, "height": 144, "data": {"name": "cfu"},
      "transform": [{"filter": "datum.strain === 'S. aureus' && datum.surface === 'PSBMA'"}],
      "encoding": {
        "x": {"field": "col", "type": "ordinal", "axis": {"orient": "top", "title": "PSBMA", "titleX": 73, "titleY": -9}},
        "y": {"field": "row", "type": "ordinal", "axis": {"orient": "left", "title": "j", "titleX": -6, "titleY": -5.5, "titleAlign": "center"}}
      },
      "layer": [
        {"mark": {"type": "rect", "stroke": "black", "strokeWidth": 2},
         "encoding": {"color": {"field": "count", "type": "quantitative", "legend": null,
           "scale": {"domain": [0, 25, 50, 75, 100, 125, 150, 175, 200], "range": ["#006d64", "#008e84", "#00c2b2", "#80dccf", "#fdf8ee", "#fdb878", "#f77f10", "#c85e0a", "#8b3f0d"], "interpolate": "rgb"}}}},
        {"mark": {"type": "text", "fontSize": 15, "fill": "black"}, "encoding": {"text": {"field": "count", "type": "quantitative"}}}
      ]
    },
    {
      "width": 54, "height": 144, "data": {"name": "bar"},
      "resolve": {"axis": {"y": "independent"}},
      "layer": [
        {"mark": {"type": "rect", "fill": {"gradient": "linear", "x1": 0, "y1": 1, "x2": 0, "y2": 0, "stops": [
            {"offset": 0, "color": "#006d64"}, {"offset": 0.125, "color": "#008e84"}, {"offset": 0.25, "color": "#00c2b2"}, {"offset": 0.375, "color": "#80dccf"}, {"offset": 0.5, "color": "#fdf8ee"}, {"offset": 0.625, "color": "#fdb878"}, {"offset": 0.75, "color": "#f77f10"}, {"offset": 0.875, "color": "#c85e0a"}, {"offset": 1, "color": "#8b3f0d"}]}},
         "encoding": {
           "x": {"datum": 0, "type": "quantitative", "scale": {"domain": [0, 1], "range": [0, 16], "nice": false, "zero": false}, "axis": {"orient": "top", "title": "(Count)", "titleX": 8, "titleY": -7, "titleAlign": "center"}},
           "x2": {"datum": 1},
           "y": {"field": "lo", "type": "quantitative", "scale": {"domain": [0, 200], "nice": false}, "axis": {"orient": "right", "offset": -38, "values": [0, 50, 100, 150, 200], "labelExpr": "datum.value === 0 ? '0.000' : format(datum.value, '.4r')", "labels": true, "ticks": true, "tickSize": 2.5, "tickColor": "black", "labelFontSize": 6.5, "labelPadding": 1, "labelColor": "#333333", "title": "CFU", "titleX": 9.55, "titleY": -24, "titleAlign": "left"}},
           "y2": {"field": "hi"}
         }},
        {"mark": {"type": "rect", "filled": false, "color": "black", "strokeWidth": 1.5},
         "encoding": {
           "x": {"datum": 0, "type": "quantitative"}, "x2": {"datum": 1},
           "y": {"field": "lo", "type": "quantitative", "axis": {"orient": "left", "title": "S. aureus", "titleFontStyle": "italic", "titleX": 21.65, "titleY": -24, "titleAlign": "right"}},
           "y2": {"field": "hi"}
         }}
      ]
    }
  ]
}
